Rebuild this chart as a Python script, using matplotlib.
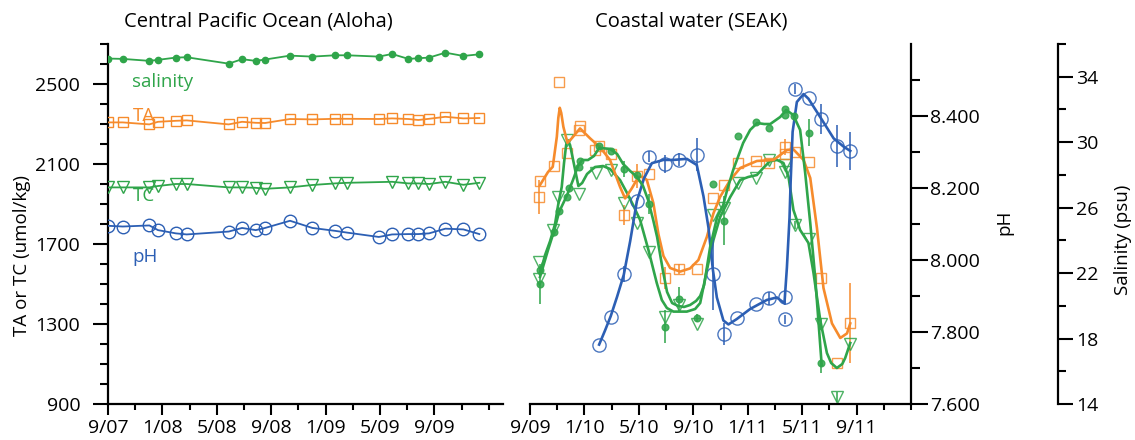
import matplotlib
matplotlib.use('Agg')
import matplotlib.pyplot as plt
from matplotlib.ticker import MultipleLocator, FixedLocator, FormatStrFormatter

plt.rcParams['font.family'] = ['Open Sans', 'DejaVu Sans']

blue = '#2c5fb4'
orange = '#f68b2c'
green = '#2fa54a'

# ---- Central Pacific (Aloha), dates as decimal years
aloha_t = [2007.669, 2007.757, 2007.920, 2007.973, 2008.082, 2008.149, 2008.406, 2008.488,
           2008.572, 2008.629, 2008.782, 2008.919, 2009.058, 2009.133, 2009.326, 2009.407,
           2009.507, 2009.568, 2009.634, 2009.734, 2009.844, 2009.942]
aloha_sal = [35.11, 35.09, 34.97, 35.03, 35.17, 35.19, 34.80, 35.07, 34.97, 35.05, 35.29,
             35.23, 35.31, 35.31, 35.23, 35.39, 35.09, 35.13, 35.17, 35.47, 35.27, 35.37]
aloha_ta = [2308, 2308, 2298, 2311, 2316, 2318, 2298, 2311, 2306, 2305, 2325,
            2323, 2326, 2326, 2325, 2328, 2325, 2320, 2326, 2336, 2328, 2330]
aloha_ph = [8.095, 8.093, 8.096, 8.083, 8.074, 8.071, 8.079, 8.089, 8.083, 8.089, 8.109,
            8.089, 8.081, 8.076, 8.064, 8.071, 8.072, 8.072, 8.074, 8.087, 8.085, 8.072]
aloha_tc_t = [2007.669, 2007.757, 2007.920, 2007.973, 2008.082, 2008.149, 2008.406, 2008.488,
              2008.572, 2008.629, 2008.782, 2008.919, 2009.058, 2009.133, 2009.407,
              2009.507, 2009.568, 2009.634, 2009.734, 2009.844, 2009.942]
aloha_tc = [1983, 1983, 1983, 1990, 2000, 2000, 1983, 1983, 1981, 1976, 1983,
            1995, 2003, 2006, 2011, 2003, 2003, 2000, 2011, 1996, 2006]

# ---- Coastal water (SEAK)
ta_t = [2009.724, 2009.728, 2009.811, 2009.843, 2009.892, 2009.967, 2009.973, 2010.062,
        2010.092, 2010.165, 2010.240, 2010.320, 2010.396, 2010.494, 2010.578, 2010.688,
        2010.786, 2010.853, 2010.940, 2011.052, 2011.131, 2011.229, 2011.229, 2011.288,
        2011.377, 2011.450, 2011.546, 2011.628]
ta = [1936, 2016, 2090, 2512, 2153, 2270, 2290, 2170, 2190, 2148, 1845, 2042, 2050, 1530,
      1575, 1575, 1928, 1993, 2103, 2115, 2105, 2185, 2150, 2158, 2108, 1530, 1106, 1306]
ta_err = [85, 0, 0, 0, 0, 0, 0, 0, 0, 0, 50, 60, 0, 55, 25, 0, 0, 0, 0, 0, 0, 40, 0, 0,
          0, 0, 0, 200]

tc_t = [2009.724, 2009.724, 2009.810, 2009.839, 2009.892, 2009.966, 2010.071, 2010.162,
        2010.244, 2010.321, 2010.393, 2010.492, 2010.578, 2010.688, 2010.788, 2010.853,
        2010.940, 2011.052, 2011.130, 2011.229, 2011.229, 2011.288, 2011.373, 2011.449,
        2011.546, 2011.628]
tc = [1608, 1525, 1770, 1937, 2222, 1952, 2057, 2068, 1905, 1803, 1660, 1333, 1395, 1298,
      1845, 1878, 2005, 2028, 2118, 2095, 2060, 1797, 1723, 1302, 937, 1198]
tc_err = [0, 0, 0, 0, 0, 0, 0, 0, 0, 0, 0, 0, 0, 0, 0, 0, 0, 0, 0, 0, 0, 20, 0, 30, 25, 0]

ph_t = [2010.088, 2010.165, 2010.243, 2010.321, 2010.396, 2010.492, 2010.578, 2010.688,
        2010.786, 2010.856, 2010.937, 2011.052, 2011.130, 2011.228, 2011.228, 2011.289,
        2011.375, 2011.448, 2011.546, 2011.628]
ph = [7.764, 7.843, 7.960, 8.165, 8.287, 8.266, 8.279, 8.292, 7.960, 7.795, 7.839, 7.878,
      7.894, 7.896, 7.835, 8.475, 8.451, 8.391, 8.317, 8.303]
ph_err = [0, 0, 0.022, 0.008, 0.015, 0.025, 0.019, 0.046, 0.10, 0.03, 0, 0, 0.018, 0.02,
          0.012, 0.015, 0, 0.041, 0.059, 0.052]

sal_t = [2009.728, 2009.728, 2009.816, 2009.843, 2009.892, 2009.903, 2009.965, 2009.973,
         2010.088, 2010.161, 2010.243, 2010.321, 2010.393, 2010.491, 2010.577, 2010.688,
         2010.786, 2010.852, 2010.940, 2011.052, 2011.130, 2011.229, 2011.229, 2011.284,
         2011.373, 2011.450]
sal = [21.33, 22.16, 24.53, 25.80, 26.67, 27.23, 28.50, 28.87, 29.77, 29.46, 28.36, 28.00,
       26.24, 18.72, 20.40, 19.27, 27.45, 25.20, 30.35, 31.24, 30.85, 32.00, 31.66, 31.60,
       30.59, 16.51]
sal_err = [1.2, 0, 0, 0, 0, 0, 0, 0, 0, 0, 0.5, 0, 0.6, 1.0, 0.75, 0.25, 0, 1.5, 0, 0, 0,
           0, 0, 0, 0.8, 0.6]

# smoothed fits
ta_fit_t = [2009.728, 2009.777, 2009.806, 2009.831, 2009.840, 2009.849, 2009.858, 2009.871,
            2009.896, 2009.922, 2009.973, 2010.035, 2010.096, 2010.157, 2010.218, 2010.249,
            2010.290, 2010.331, 2010.361, 2010.382, 2010.422, 2010.453, 2010.484, 2010.525,
            2010.586, 2010.647, 2010.698, 2010.750, 2010.790, 2010.831, 2010.893, 2010.954,
            2011.056, 2011.158, 2011.240, 2011.280, 2011.342, 2011.383, 2011.424, 2011.464,
            2011.516, 2011.567, 2011.608, 2011.628]
ta_fit = [1995, 2060, 2086, 2236, 2330, 2381, 2355, 2286, 2206, 2228, 2278, 2228, 2183,
          2120, 1986, 1928, 1978, 2036, 2035, 2020, 1905, 1750, 1640, 1580, 1562, 1578,
          1620, 1736, 1853, 1936, 2020, 2080, 2115, 2120, 2170, 2173, 2120, 2030, 1780,
          1480, 1303, 1230, 1253, 1303]

tc_fit_t = [2009.728, 2009.759, 2009.790, 2009.820, 2009.839, 2009.861, 2009.875, 2009.888,
            2009.897, 2009.912, 2009.937, 2009.963, 2009.986, 2010.016, 2010.065, 2010.114,
            2010.157, 2010.218, 2010.261, 2010.298, 2010.341, 2010.392, 2010.443, 2010.474,
            2010.505, 2010.545, 2010.627, 2010.678, 2010.709, 2010.750, 2010.790, 2010.831,
            2010.893, 2010.954, 2011.003, 2011.056, 2011.095, 2011.138, 2011.180, 2011.219,
            2011.250, 2011.280, 2011.321, 2011.372, 2011.403, 2011.444, 2011.485, 2011.511,
            2011.546, 2011.579, 2011.597, 2011.628]
tc_fit = [1550, 1645, 1715, 1800, 1895, 1985, 2105, 2195, 2220, 2195, 2095, 1990, 2005,
          2050, 2085, 2090, 2075, 2020, 1955, 1895, 1820, 1670, 1505, 1420, 1380, 1362,
          1362, 1375, 1405, 1570, 1720, 1835, 1935, 2020, 2035, 2045, 2080, 2115, 2120,
          2105, 2035, 1870, 1770, 1705, 1555, 1320, 1155, 1105, 1080, 1100, 1130, 1205]

ph_fit_t = [2010.090, 2010.126, 2010.161, 2010.200, 2010.241, 2010.280, 2010.321, 2010.365,
            2010.413, 2010.484, 2010.545, 2010.627, 2010.688, 2010.729, 2010.760, 2010.786,
            2010.811, 2010.851, 2010.882, 2010.933, 2011.015, 2011.117, 2011.178, 2011.225,
            2011.240, 2011.256, 2011.263, 2011.275, 2011.301, 2011.342, 2011.372, 2011.444,
            2011.526, 2011.587, 2011.628]
ph_fit = [7.765, 7.804, 7.844, 7.898, 7.959, 8.052, 8.163, 8.227, 8.269, 8.278, 8.278,
          8.281, 8.264, 8.177, 8.089, 7.975, 7.896, 7.832, 7.821, 7.836, 7.864, 7.889,
          7.896, 7.880, 7.979, 8.117, 8.218, 8.356, 8.439, 8.461, 8.448, 8.397, 8.338,
          8.315, 8.303]

sal_fit_t = [2009.728, 2009.777, 2009.814, 2009.845, 2009.894, 2009.930, 2009.961, 2009.986,
             2010.022, 2010.059, 2010.090, 2010.157, 2010.200, 2010.237, 2010.280, 2010.323,
             2010.359, 2010.390, 2010.421, 2010.445, 2010.482, 2010.506, 2010.537, 2010.574,
             2010.610, 2010.647, 2010.684, 2010.709, 2010.733, 2010.770, 2010.813, 2010.850,
             2010.874, 2010.911, 2010.972, 2011.015, 2011.058, 2011.101, 2011.138, 2011.199,
             2011.236, 2011.279, 2011.321, 2011.352, 2011.383, 2011.413, 2011.434, 2011.453]
sal_fit = [21.76, 23.41, 24.57, 25.74, 26.77, 27.69, 28.55, 28.91, 28.91, 29.16, 29.65,
           29.59, 29.28, 28.67, 28.24, 27.87, 27.32, 26.47, 25.25, 24.21, 22.07, 20.85,
           20.17, 19.99, 19.93, 20.05, 20.30, 20.60, 21.27, 23.60, 25.43, 26.16, 27.08,
           28.30, 29.95, 30.75, 31.17, 31.11, 31.11, 31.54, 31.97, 31.66, 30.75, 28.12,
           25.06, 21.76, 18.95, 16.38]

left_ticks = [2007 + 8 / 12, 2008, 2008 + 4 / 12, 2008 + 8 / 12, 2009, 2009 + 4 / 12, 2009 + 8 / 12]
left_labels = ['9/07', '1/08', '5/08', '9/08', '1/09', '5/09', '9/09']
right_ticks = [2009 + 8 / 12, 2010, 2010 + 4 / 12, 2010 + 8 / 12, 2011, 2011 + 4 / 12, 2011 + 8 / 12]
right_labels = ['9/09', '1/10', '5/10', '9/10', '1/11', '5/11', '9/11']

fig = plt.figure(figsize=(11.35, 4.4), dpi=100)
ax1 = fig.add_axes([108 / 1135, 36 / 440, 395 / 1135, 360 / 440])
ax2 = fig.add_axes([530 / 1135, 36 / 440, 381 / 1135, 360 / 440])

lw_sp = 1.6
tick_kw = dict(width=1.5, labelsize=14, colors='black')

# ---------------- left panel
ax1.set_xlim(2007 + 8 / 12, 2010.087)
ax1.set_ylim(900, 2700)
for s in ['top', 'right']:
    ax1.spines[s].set_visible(False)
for s in ['left', 'bottom']:
    ax1.spines[s].set_linewidth(lw_sp)
ax1.yaxis.set_major_locator(FixedLocator([900, 1300, 1700, 2100, 2500]))
ax1.yaxis.set_minor_locator(MultipleLocator(100))
ax1.xaxis.set_major_locator(FixedLocator(left_ticks))
ax1.set_xticklabels(left_labels)
ax1.xaxis.set_minor_locator(FixedLocator([2007 + 8 / 12 + k / 6 for k in range(15)]))
ax1.tick_params(axis='y', which='major', length=11, pad=9, **tick_kw)
ax1.tick_params(axis='y', which='minor', length=6, width=1.5)
ax1.tick_params(axis='x', which='major', length=8, pad=3, **tick_kw)
ax1.tick_params(axis='x', which='minor', length=4.5, width=1.5)

ax1.plot(aloha_t, aloha_ta, color=orange, lw=1.3, marker='s', ms=7, mfc='none',
         mec=orange, mew=1.0, zorder=3)
ax1.plot(aloha_tc_t, aloha_tc, color=green, lw=1.3, marker='v', ms=8, mfc='none',
         mec=green, mew=1.0, zorder=3)

ax1_ph = ax1.twinx()
ax1_sal = ax1.twinx()
for a in (ax1_ph, ax1_sal):
    a.set_axis_off()
ax1_ph.set_ylim(7.6, 8.6)
ax1_sal.set_ylim(14, 36)
ax1_ph.plot(aloha_t, aloha_ph, color=blue, lw=1.3, marker='o', ms=9, mfc='none',
            mec=blue, mew=1.0)
ax1_sal.plot(aloha_t, aloha_sal, color=green, lw=1.3, marker='o', ms=4.5, mec=green)

ax1.text(2007.814, 2510, 'salinity', color=green, fontsize=13.5, va='center')
ax1.text(2007.818, 2340, 'TA', color=orange, fontsize=13.5, va='center')
ax1.text(2007.818, 1940, 'TC', color=green, fontsize=13.5, va='center')
ax1.text(2007.818, 1635, 'pH', color=blue, fontsize=13.5, va='center')

# ---------------- right panel
ax2.set_xlim(2009 + 8 / 12, 2012.0)
ax2.set_ylim(900, 2700)
for s in ['top', 'right', 'left']:
    ax2.spines[s].set_visible(False)
ax2.spines['bottom'].set_linewidth(lw_sp)
ax2.yaxis.set_visible(False)
ax2.xaxis.set_major_locator(FixedLocator(right_ticks))
ax2.set_xticklabels(right_labels)
ax2.xaxis.set_minor_locator(FixedLocator([2009 + 8 / 12 + k / 6 for k in range(15)]))
ax2.tick_params(axis='x', which='major', length=8, pad=3, **tick_kw)
ax2.tick_params(axis='x', which='minor', length=4.5, width=1.5)

ax_ph = ax2.twinx()
ax_sal = ax2.twinx()
ax_ph.set_ylim(7.6, 8.6)
ax_sal.set_ylim(14, 36)
for s in ['top', 'left', 'bottom']:
    ax_ph.spines[s].set_visible(False)
    ax_sal.spines[s].set_visible(False)
ax_ph.spines['right'].set_linewidth(lw_sp)
ax_sal.spines['right'].set_linewidth(lw_sp)
ax_sal.spines['right'].set_position(('axes', (1058 - 530) / 381))

ax_ph.yaxis.set_major_locator(FixedLocator([7.6, 7.8, 8.0, 8.2, 8.4]))
ax_ph.yaxis.set_minor_locator(FixedLocator([7.7, 7.9, 8.1, 8.3, 8.5]))
ax_ph.yaxis.set_major_formatter(FormatStrFormatter('%.3f'))
ax_ph.tick_params(axis='y', which='major', length=12, pad=2, **tick_kw)
ax_ph.tick_params(axis='y', which='minor', length=6.5, width=1.5)

ax_sal.yaxis.set_major_locator(FixedLocator([14, 18, 22, 26, 30, 34]))
ax_sal.yaxis.set_minor_locator(MultipleLocator(2))
ax_sal.tick_params(axis='y', which='major', length=11, pad=2, **tick_kw)
ax_sal.tick_params(axis='y', which='minor', length=6, width=1.5)

eb = dict(linestyle='none', elinewidth=1.3, capsize=0, alpha=0.85)
ax2.errorbar(tc_t, tc, yerr=tc_err, fmt='v', ms=8.5, mfc='none', mec=green, mew=1.0,
             ecolor=green, **eb)
ax2.errorbar(ta_t, ta, yerr=ta_err, fmt='s', ms=7.5, mfc='none', mec=orange, mew=1.0,
             ecolor=orange, **eb)
ax_ph.errorbar(ph_t, ph, yerr=ph_err, fmt='o', ms=9.5, mfc='none', mec=blue, mew=1.0,
               ecolor=blue, **eb)
ax_sal.errorbar(sal_t, sal, yerr=sal_err, fmt='o', ms=4.8, mfc=green, mec=green,
                ecolor=green, **eb)

ax2.plot(tc_fit_t, tc_fit, color=green, lw=1.9, zorder=4)
ax2.plot(ta_fit_t, ta_fit, color=orange, lw=1.9, zorder=4)
ax_ph.plot(ph_fit_t, ph_fit, color=blue, lw=1.9)
ax_sal.plot(sal_fit_t, sal_fit, color=green, lw=1.9)

# ---------------- titles and axis labels
fig.text(124 / 1135, 1 - 22 / 440, 'Central Pacific Ocean (Aloha)', fontsize=14.5,
         ha='left', va='center')
fig.text(595 / 1135, 1 - 22 / 440, 'Coastal water (SEAK)', fontsize=14.5,
         ha='left', va='center')
fig.text(22 / 1135, 1 - 255 / 440, 'TA or TC (umol/kg)', fontsize=13.5, rotation=90,
         ha='center', va='center')
fig.text(1004 / 1135, 1 - 222 / 440, 'pH', fontsize=13.5, rotation=90,
         ha='center', va='center')
fig.text(1123 / 1135, 1 - 240 / 440, 'Salinity (psu)', fontsize=13.5, rotation=90,
         ha='center', va='center')

fig.savefig('out.png', dpi=100)
